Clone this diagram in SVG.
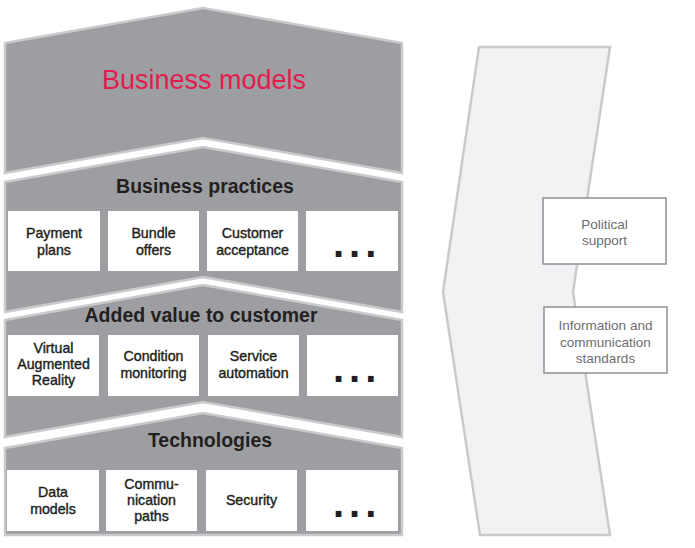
<svg xmlns="http://www.w3.org/2000/svg" width="695" height="548" viewBox="0 0 695 548">
<style>
.layer{fill:#9d9ea2;stroke:#c9cacc;stroke-width:2.5;stroke-linejoin:miter}
.box{fill:#ffffff;stroke:none}
.bt{font-family:"Liberation Sans",Arial,sans-serif;font-size:14.2px;fill:#231f20;stroke:#231f20;stroke-width:0.4;text-anchor:middle}
.ht{font-family:"Liberation Sans",Arial,sans-serif;font-size:19.5px;font-weight:bold;fill:#231f20;text-anchor:middle}
.dots{font-family:"Liberation Sans",Arial,sans-serif;font-size:40px;font-weight:bold;fill:#231f20;letter-spacing:5px}
.side{fill:#f1f2f4;stroke:#c9cacc;stroke-width:2.5}
.sbox{fill:#ffffff;stroke:#8e8f92;stroke-width:1.5}
.st{font-family:"Liberation Sans",Arial,sans-serif;font-size:13.5px;fill:#6d6e71;text-anchor:middle}
</style>
<g id="frame-side">
<path class="side" d="M479,47 L610,47 L573,292 L610,535 L480,535 L443,292 Z"/>
</g>
<g id="business-models">
<path class="layer" d="M5,43 L203,8 L402,43 L402,173 L203,138 L5,173 Z"/>
<text x="204" y="89" style="font-family:'Liberation Sans',Arial,sans-serif;font-size:27px;fill:#e31c4f;text-anchor:middle">Business models</text>
</g>
<g id="business-practices">
<path class="layer" d="M5,182 L203,147 L402,182 L402,312 L203,277 L5,312 Z"/>
<text class="ht" x="205" y="193">Business practices</text>
<g id="payment-plans"><rect class="box" x="8" y="211" width="92" height="60"/><text class="bt" x="54" y="238">Payment</text><text class="bt" x="54" y="254.5">plans</text></g>
<g id="bundle-offers"><rect class="box" x="108" y="211" width="91" height="60"/><text class="bt" x="153.5" y="238">Bundle</text><text class="bt" x="153.5" y="254.5">offers</text></g>
<g id="customer-acceptance"><rect class="box" x="207" y="211" width="91" height="60"/><text class="bt" x="252.5" y="238">Customer</text><text class="bt" x="252.5" y="254.5">acceptance</text></g>
<g id="bp-more"><rect class="box" x="306" y="211" width="92" height="60"/><text class="dots" x="333" y="257">...</text></g>
</g>
<g id="added-value">
<path class="layer" d="M5,320 L203,285 L402,320 L402,437 L203,402 L5,437 Z"/>
<text class="ht" x="201" y="322">Added value to customer</text>
<g id="var"><rect class="box" x="8" y="335" width="91" height="61"/><text class="bt" x="53.5" y="353">Virtual</text><text class="bt" x="53.5" y="369">Augmented</text><text class="bt" x="53.5" y="385">Reality</text></g>
<g id="condition-monitoring"><rect class="box" x="108" y="335" width="91" height="61"/><text class="bt" x="153.5" y="361">Condition</text><text class="bt" x="153.5" y="377.5">monitoring</text></g>
<g id="service-automation"><rect class="box" x="208" y="335" width="91" height="61"/><text class="bt" x="253.5" y="361">Service</text><text class="bt" x="253.5" y="377.5">automation</text></g>
<g id="av-more"><rect class="box" x="307" y="335" width="91" height="61"/><text class="dots" x="333" y="382">...</text></g>
</g>
<g id="technologies">
<path class="layer" d="M5,448 L203,413 L402,448 L402,535 L5,535 Z"/>
<text class="ht" x="210" y="447">Technologies</text>
<g id="data-models"><rect class="box" x="7" y="470" width="92" height="61"/><text class="bt" x="53" y="497">Data</text><text class="bt" x="53" y="513.5">models</text></g>
<g id="communication-paths"><rect class="box" x="106" y="470" width="91" height="61"/><text class="bt" x="151.5" y="489">Commu-</text><text class="bt" x="151.5" y="505">nication</text><text class="bt" x="151.5" y="521">paths</text></g>
<g id="security"><rect class="box" x="206" y="470" width="91" height="61"/><text class="bt" x="251.5" y="505">Security</text></g>
<g id="tech-more"><rect class="box" x="306" y="470" width="92" height="61"/><text class="dots" x="333" y="517">...</text></g>
</g>
<g id="political-support">
<rect class="sbox" x="543" y="198" width="123" height="66"/>
<text class="st" x="604.5" y="229">Political</text>
<text class="st" x="604.5" y="245">support</text>
</g>
<g id="ic-standards">
<rect class="sbox" x="544" y="307" width="123" height="66"/>
<text class="st" x="605.5" y="330">Information and</text>
<text class="st" x="605.5" y="346.5">communication</text>
<text class="st" x="605.5" y="363">standards</text>
</g>
<g id="connectors"></g>
</svg>
